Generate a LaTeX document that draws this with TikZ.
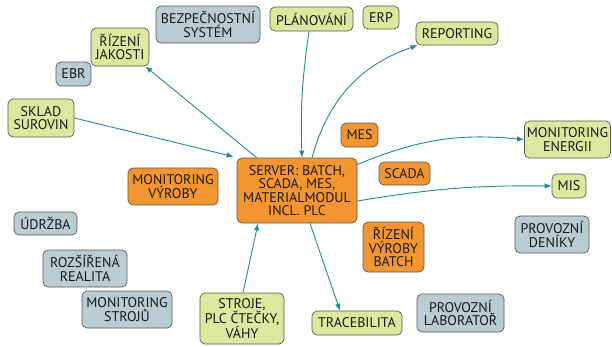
\documentclass[tikz,border=0pt]{standalone}
\usepackage{fontspec}
\setmainfont{PT Sans}
\usepackage{tikz}
\usetikzlibrary{arrows.meta,positioning}

\definecolor{boxgreen}{HTML}{DDE79E}
\definecolor{boxorange}{HTML}{F39530}
\definecolor{boxblue}{HTML}{B9CCD4}
\definecolor{linkteal}{HTML}{1F8A9C}

\begin{document}
\begin{tikzpicture}[x=1pt,y=-1pt,>={Latex[length=7pt,width=5.5pt]}]
  \tikzstyle{box}=[rectangle,rounded corners=5pt,draw=black!65,line width=0.7pt,
                   align=center,inner sep=2pt,text=black!90,
                   font=\fontsize{14}{13.2}\selectfont]
  \tikzstyle{greenbox}=[box,fill=boxgreen]
  \tikzstyle{orangebox}=[box,fill=boxorange]
  \tikzstyle{bluebox}=[box,fill=boxblue]
  \tikzstyle{link}=[->,color=linkteal,line width=0.9pt]

  \useasboundingbox (0,0) rectangle (612,346);

  % centre
  \node[orangebox,minimum width=120pt,minimum height=65pt] (server) at (297,190.5)
       {SERVER: BATCH,\\SCADA, MES,\\MATERIALMODUL\\INCL. PLC};

  % top row
  \node[bluebox,minimum width=104pt,minimum height=37pt] (bezp) at (208,24.5) {BEZPEČNOSTNÍ\\SYSTÉM};
  \node[greenbox,minimum width=83pt,minimum height=24pt] (plan) at (311.5,19) {PLÁNOVÁNÍ};
  \node[greenbox,minimum width=36pt,minimum height=23pt] (erp) at (381,17.5) {ERP};
  \node[greenbox,minimum width=82pt,minimum height=23pt] (report) at (457,33.5) {REPORTING};

  % left side
  \node[greenbox,minimum width=58pt,minimum height=38pt] (rizjak) at (120,47) {ŘÍZENÍ\\JAKOSTI};
  \node[bluebox,minimum width=35pt,minimum height=24pt] (ebr) at (73.5,74) {EBR};
  \node[greenbox,minimum width=66pt,minimum height=38pt] (sklad) at (41,118) {SKLAD\\SUROVIN};
  \node[orangebox,minimum width=90pt,minimum height=37pt] (monvyr) at (173,186.5) {MONITORING\\VÝROBY};
  \node[bluebox,minimum width=63pt,minimum height=23pt] (udrz) at (45.5,223.5) {ÚDRŽBA};
  \node[bluebox,minimum width=84pt,minimum height=37pt] (rozs) at (85,268.5) {ROZŠÍŘENÁ\\REALITA};
  \node[bluebox,minimum width=90pt,minimum height=37pt] (monstr) at (127,309.5) {MONITORING\\STROJŮ};
  \node[greenbox,minimum width=84pt,minimum height=51pt] (stroje) at (242,318.5) {STROJE,\\PLC ČTEČKY,\\VÁHY};

  % right side
  \node[orangebox,minimum width=37pt,minimum height=24pt] (mes) at (359.5,135) {MES};
  \node[orangebox,minimum width=51pt,minimum height=23pt] (scada) at (404.5,173.5) {SCADA};
  \node[greenbox,minimum width=86pt,minimum height=37pt] (monen) at (567.5,139.5) {MONITORING\\ENERGII};
  \node[greenbox,minimum width=34pt,minimum height=24pt] (mis) at (569,186) {MIS};
  \node[bluebox,minimum width=74pt,minimum height=37pt] (denik) at (552,234.5) {PROVOZNÍ\\DENÍKY};
  \node[orangebox,minimum width=61pt,minimum height=50pt] (rizvyr) at (393.5,247) {ŘÍZENÍ\\VÝROBY\\BATCH};
  \node[greenbox,minimum width=90pt,minimum height=24pt] (trace) at (357,323) {TRACEBILITA};
  \node[bluebox,minimum width=87pt,minimum height=38pt] (labor) at (460.5,313) {PROVOZNÍ\\LABORATOŘ};

  % links
  \path[link] ([xshift=20pt]server.north west) edge ([xshift=-4pt]rizjak.south east);
  \path[link] (sklad.east) edge ([xshift=-3pt,yshift=1pt]server.north west);
  \path[link] ([xshift=-2.5pt]plan.south) edge [bend right=5] ([xshift=5pt]server.north);
  \path[link] ([xshift=15pt]server.north) edge [bend left=28] ([xshift=2pt]report.south west);
  \path[link] ([yshift=26pt]server.east) edge [bend left=14] (monen.west);
  \path[link] ([yshift=-10.5pt]server.east) edge [bend left=5] (mis.west);
  \path[link] ([xshift=13pt]server.south) edge ([xshift=-17pt]trace.north);
  \path[link] ([xshift=1pt]stroje.north) edge ([xshift=-39pt]server.south);
\end{tikzpicture}
\end{document}
